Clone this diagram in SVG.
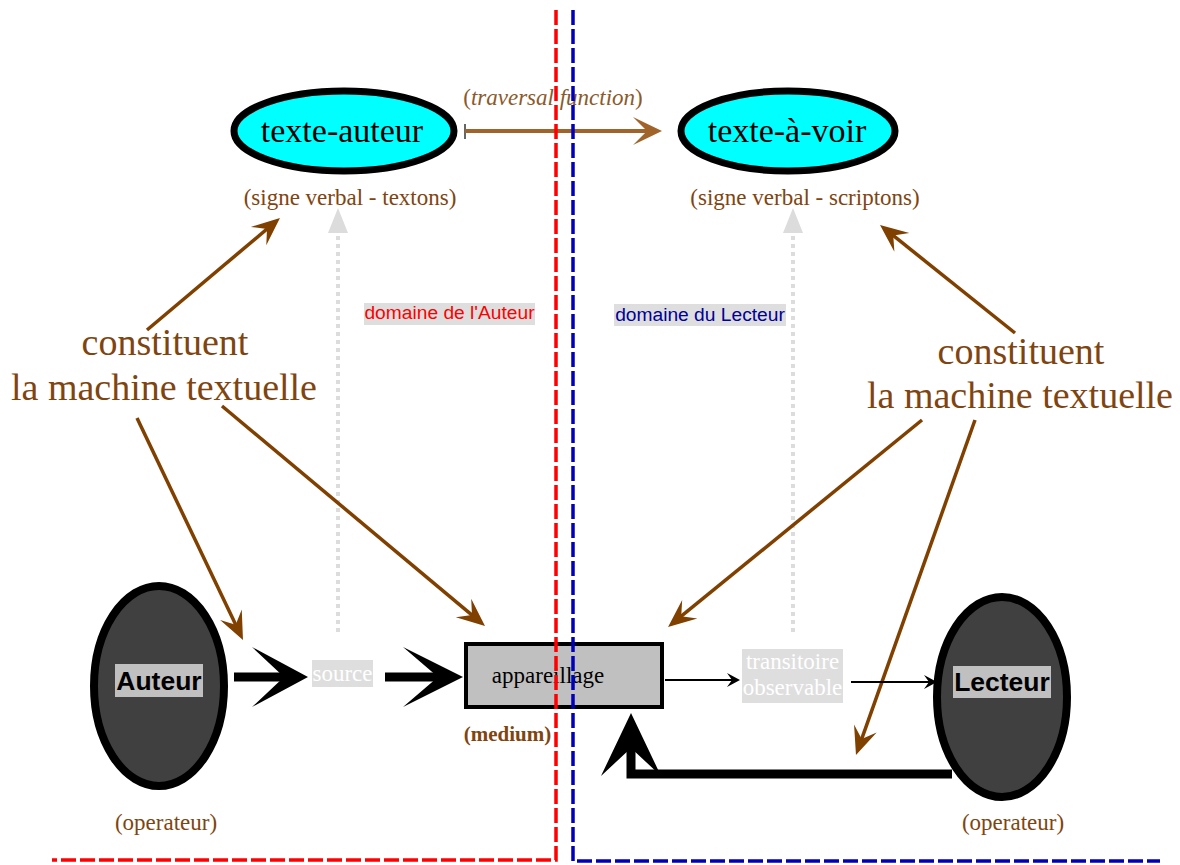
<svg xmlns="http://www.w3.org/2000/svg" width="1180" height="865" viewBox="0 0 1180 865">
  <style>
    .serif { font-family: "Liberation Serif", "Times New Roman", serif; }
    .sans { font-family: "Liberation Sans", Arial, sans-serif; }
    .brownTxt { fill: #7f4510; }
    .small { font-size: 23px; }
    .big { font-size: 38px; }
    .brownLine { stroke: #7f4000; stroke-width: 3.5; fill: none; marker-end: url(#brownHead); }
    .thinLine { stroke: #000; stroke-width: 2; fill: none; marker-end: url(#thinHead); }
    .thick { stroke: #000; stroke-width: 9; fill: none; }
    .ghost { stroke: #dcdcdc; stroke-width: 4; stroke-dasharray: 4 4; fill: none; }
    .tag { fill: #dedede; }
  </style>
  <defs>
    <marker id="brownHead" markerUnits="userSpaceOnUse" viewBox="-30 -14 32 28" refX="-6" refY="0" markerWidth="32" markerHeight="28" orient="auto">
      <path d="M0,0 L-28,-12 L-17,0 L-28,12 Z" fill="#7f4000"/>
    </marker>
    <marker id="thinHead" markerUnits="userSpaceOnUse" viewBox="-15 -8 16 16" refX="-2" refY="0" markerWidth="16" markerHeight="16" orient="auto">
      <path d="M0,0 L-13,-7 L-8,0 L-13,7 Z" fill="#000"/>
    </marker>
  </defs>

  <!-- connectors -->
  <g id="connectors">
    <!-- traversal function -->
    <line x1="465" y1="124" x2="465" y2="139" stroke="#666" stroke-width="2"/>
    <line x1="465" y1="131" x2="648" y2="131" stroke="#a0642a" stroke-width="4"/>
    <path d="M662,131 L633,117 L647,131 L633,145 Z" fill="#a0642a"/>

    <!-- faint dotted arrows to the signs -->
    <line class="ghost" x1="338" y1="632" x2="338" y2="233"/>
    <path d="M338,208 L348,233 L328,233 Z" fill="#dcdcdc"/>
    <line class="ghost" x1="793" y1="632" x2="793" y2="233"/>
    <path d="M793,208 L803,233 L783,233 Z" fill="#dcdcdc"/>

    <!-- brown "constituent" arrows -->
    <line class="brownLine" x1="147" y1="330" x2="275.4" y2="221.9"/>
    <line class="brownLine" x1="137" y1="418" x2="240.4" y2="634.6"/>
    <line class="brownLine" x1="222" y1="406" x2="480.4" y2="622.1"/>
    <line class="brownLine" x1="1015" y1="333" x2="884.7" y2="228.7"/>
    <line class="brownLine" x1="922" y1="420" x2="672.7" y2="623.2"/>
    <line class="brownLine" x1="975" y1="420" x2="858" y2="749.3"/>

    <!-- Auteur to source -->
    <line class="thick" x1="234" y1="677" x2="290" y2="677"/>
    <path d="M308,677 L252,647 L284,677 L252,707 Z" fill="#000"/>
    <!-- source to appareillage -->
    <line class="thick" x1="385" y1="677" x2="445" y2="677"/>
    <path d="M463,677 L403,647 L438,677 L403,707 Z" fill="#000"/>

    <!-- appareillage to transitoire, transitoire to Lecteur -->
    <line class="thinLine" x1="665" y1="680" x2="738" y2="680"/>
    <line class="thinLine" x1="851" y1="682" x2="935" y2="682"/>

    <!-- feedback from Lecteur to appareillage -->
    <path class="thick" d="M952,774 H631 V745"/>
    <path d="M631,713 L661,776 L631,748 L601,776 Z" fill="#000"/>
  </g>

  <!-- nodes -->
  <g id="texte-auteur">
    <ellipse cx="344" cy="131" rx="110" ry="40" fill="#00ffff" stroke="#000" stroke-width="7"/>
    <text class="serif" x="342" y="142" font-size="34" text-anchor="middle" fill="#000">texte-auteur</text>
    <text class="serif small brownTxt" x="350" y="205" text-anchor="middle">(signe verbal - textons)</text>
  </g>

  <g id="texte-a-voir">
    <ellipse cx="788" cy="131" rx="107" ry="40" fill="#00ffff" stroke="#000" stroke-width="7"/>
    <text class="serif" x="787" y="142" font-size="34" text-anchor="middle" fill="#000">texte-à-voir</text>
    <text class="serif small brownTxt" x="805" y="205" text-anchor="middle">(signe verbal - scriptons)</text>
  </g>

  <g id="traversal-label">
    <text class="serif small" x="553" y="105" text-anchor="middle" fill="#8b5a2b">(<tspan font-style="italic">traversal function</tspan>)</text>
  </g>

  <g id="domaine-auteur">
    <rect class="tag" x="364" y="303" width="171" height="22"/>
    <text class="sans" x="449.5" y="319" font-size="19.2" text-anchor="middle" fill="#ff0000">domaine de l'Auteur</text>
  </g>

  <g id="domaine-lecteur">
    <rect class="tag" x="614" y="304" width="172" height="22"/>
    <text class="sans" x="700" y="321" font-size="19.2" text-anchor="middle" fill="#000099">domaine du Lecteur</text>
  </g>

  <g id="machine-gauche">
    <text class="serif big brownTxt" text-anchor="middle"><tspan x="165" y="355">constituent</tspan><tspan x="164" y="400">la machine textuelle</tspan></text>
  </g>

  <g id="machine-droite">
    <text class="serif big brownTxt" text-anchor="middle"><tspan x="1021" y="364">constituent</tspan><tspan x="1020" y="408">la machine textuelle</tspan></text>
  </g>

  <g id="auteur">
    <ellipse cx="159" cy="686" rx="65" ry="100" fill="#404040" stroke="#000" stroke-width="8"/>
    <rect x="115" y="664" width="88" height="33" fill="#c0c0c0"/>
    <text class="sans" x="159" y="690" font-size="26.5" font-weight="bold" text-anchor="middle" fill="#000">Auteur</text>
    <text class="serif small brownTxt" x="166" y="830" text-anchor="middle">(operateur)</text>
  </g>

  <g id="source">
    <rect class="tag" x="312" y="660" width="61" height="27"/>
    <text class="serif small" x="342.5" y="681" text-anchor="middle" fill="#fff">source</text>
  </g>

  <g id="appareillage">
    <rect x="466" y="644" width="196" height="63" fill="#c0c0c0" stroke="#000" stroke-width="4"/>
    <text class="serif small" x="548" y="683" text-anchor="middle" fill="#000">appareillage</text>
    <text class="serif brownTxt" x="507.5" y="741" font-size="21" font-weight="bold" text-anchor="middle">(medium)</text>
  </g>

  <g id="transitoire">
    <rect class="tag" x="742" y="649" width="101" height="54"/>
    <text class="serif small" text-anchor="middle" fill="#fff"><tspan x="792.5" y="669">transitoire</tspan><tspan x="792.5" y="695">observable</tspan></text>
  </g>

  <g id="lecteur">
    <ellipse cx="1002" cy="697" rx="65" ry="100" fill="#404040" stroke="#000" stroke-width="8"/>
    <rect x="953" y="666" width="98" height="32" fill="#c0c0c0"/>
    <text class="sans" x="1002" y="691" font-size="26.5" font-weight="bold" text-anchor="middle" fill="#000">Lecteur</text>
    <text class="serif small brownTxt" x="1013" y="830" text-anchor="middle">(operateur)</text>
  </g>

  <!-- domain boundaries -->
  <g id="boundaries" fill="none" stroke-width="3.5" stroke-dasharray="15 4">
    <path d="M556,10 V860 H52" stroke="#ff0000"/>
    <path d="M573,10 V861 H1160" stroke="#0000bb"/>
  </g>
</svg>
